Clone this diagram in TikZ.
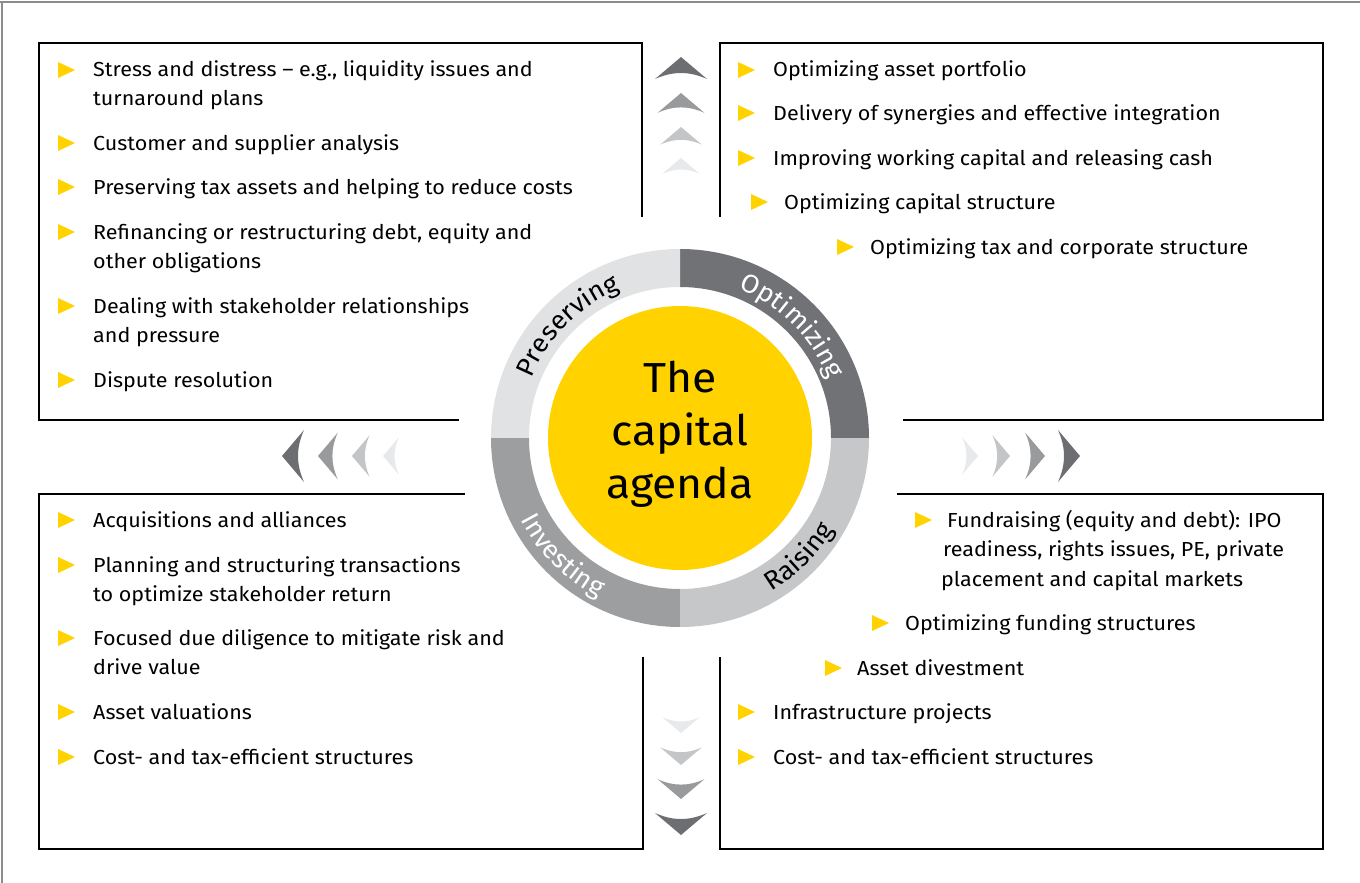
\documentclass[tikz,border=0pt]{standalone}
\usepackage{fontspec}
\setmainfont[FakeStretch=1.06]{Fira Sans}
\newfontfamily\ringfam[FakeStretch=1.04]{Fira Sans}
\usetikzlibrary{decorations.text,calc}
\definecolor{yel}{HTML}{FFD200}
\definecolor{bulc}{HTML}{FFD200}
\definecolor{pres}{HTML}{E1E2E3}
\definecolor{opt}{HTML}{717275}
\definecolor{rai}{HTML}{C6C7C8}
\definecolor{inv}{HTML}{9D9EA0}
\definecolor{chA}{HTML}{6D6E71}
\definecolor{chB}{HTML}{999A9C}
\definecolor{chC}{HTML}{C4C5C7}
\definecolor{chD}{HTML}{E8E9EA}
\definecolor{framec}{HTML}{8C8C8C}
\newcommand\bodyfont{\fontsize{20.3}{24}\selectfont}
\newcommand\ringfont{\ringfam\fontsize{26}{30}\selectfont}
\newcommand\corefont{\fontsize{42}{53}\selectfont}
\newcommand\bul[2]{\fill[bulc] ({#1-35},{8-#2}) -- ({#1-18},{-#2}) -- ({#1-35},{-8-#2}) -- cycle;}
\newcommand\itm[4]{\node[item] (#1) at (#2,{-#3-7}) {#4};}
\tikzset{
  item/.style={anchor=base west, inner sep=0pt, font=\bodyfont, text=black},
  boxline/.style={draw=black, line width=1.3pt},
  chev/.pic={\fill (0,0) -- (26,-22) .. controls (8,-14) and (-8,-14) .. (-26,-22) -- cycle;},
  ringtext/.style={decorate, decoration={text along path, text align=center, text={#1}}}
}
\begin{document}
\begin{tikzpicture}[x=1pt,y=1pt]
\useasboundingbox (0,0) rectangle (1360,-883);
% outer frame
\draw[framec, line width=1.3pt] (0,-2) -- (1360,-2);
\draw[framec, line width=1.3pt] (2,-2) -- (2,-883);
% boxes
\draw[boxline] (642,-217) -- (642,-43) -- (39,-43) -- (39,-420) -- (459,-420);
\draw[boxline] (720,-217) -- (720,-43) -- (1323,-43) -- (1323,-420) -- (903,-420);
\draw[boxline] (465,-494) -- (39,-494) -- (39,-849) -- (643,-849) -- (643,-657);
\draw[boxline] (897,-494) -- (1323,-494) -- (1323,-849) -- (720,-849) -- (720,-657);
% ring
\coordinate (C) at (680,-438);
\fill[opt] ($(C)+(0:189)$) arc[start angle=0, end angle=90, radius=189] -- ($(C)+(90:151)$) arc[start angle=90, end angle=0, radius=151] -- cycle;
\fill[pres] ($(C)+(90:189)$) arc[start angle=90, end angle=180, radius=189] -- ($(C)+(180:151)$) arc[start angle=180, end angle=90, radius=151] -- cycle;
\fill[inv] ($(C)+(180:189)$) arc[start angle=180, end angle=270, radius=189] -- ($(C)+(270:151)$) arc[start angle=270, end angle=180, radius=151] -- cycle;
\fill[rai] ($(C)+(270:189)$) arc[start angle=270, end angle=360, radius=189] -- ($(C)+(0:151)$) arc[start angle=360, end angle=270, radius=151] -- cycle;
\node[circle, fill=yel, minimum size=264pt, inner sep=0pt] (core) at (C) {};
\node[align=center, font=\corefont, inner sep=0pt] (title) at (680,-434) {The\\capital\\agenda};
\path[ringtext={|\ringfont\color{black}|Preserving}] ($(C)+(180:160)$) arc[start angle=180, end angle=90, radius=160];
\path[ringtext={|\ringfont\color{white}|Optimizing}] ($(C)+(90:160)$) arc[start angle=90, end angle=0, radius=160];
\path[ringtext={|\ringfont\color{white}|Investing}] ($(C)+(180:179)$) arc[start angle=180, end angle=270, radius=179];
\path[ringtext={|\ringfont\color{black}|Raising}] ($(C)+(270:179)$) arc[start angle=270, end angle=360, radius=179];
% chevrons up
\pic[fill=chA] at (681,-57) {chev};
\pic[fill=chB, scale=0.9] at (681,-93) {chev};
\pic[fill=chC, scale=0.8] at (681,-127) {chev};
\pic[fill=chD, scale=0.72] at (681,-158) {chev};
% chevrons down
\pic[fill=chA, rotate=180] at (681,-835) {chev};
\pic[fill=chB, scale=0.9, rotate=180] at (681,-799) {chev};
\pic[fill=chC, scale=0.8, rotate=180] at (681,-765) {chev};
\pic[fill=chD, scale=0.72, rotate=180] at (681,-733) {chev};
% chevrons left
\pic[fill=chA, rotate=90] at (282,-456) {chev};
\pic[fill=chB, scale=0.9, rotate=90] at (318,-456) {chev};
\pic[fill=chC, scale=0.8, rotate=90] at (352,-456) {chev};
\pic[fill=chD, scale=0.72, rotate=90] at (383,-456) {chev};
% chevrons right
\pic[fill=chA, rotate=-90] at (1080,-456) {chev};
\pic[fill=chB, scale=0.9, rotate=-90] at (1045,-456) {chev};
\pic[fill=chC, scale=0.8, rotate=-90] at (1010,-456) {chev};
\pic[fill=chD, scale=0.72, rotate=-90] at (978,-456) {chev};
% top-left box
\bul{93}{70}\itm{tla}{93}{70}{Stress and distress – e.g., liquidity issues and}
\itm{tlb}{93}{98}{turnaround plans}
\bul{93}{143}\itm{tlc}{93}{143}{Customer and supplier analysis}
\bul{93}{187}\itm{tld}{93}{187}{Preserving tax assets and helping to reduce costs}
\bul{93}{232}\itm{tle}{93}{232}{Refinancing or restructuring debt, equity and}
\itm{tlf}{93}{261}{other obligations}
\bul{93}{306}\itm{tlg}{93}{306}{Dealing with stakeholder relationships}
\itm{tlh}{93}{335}{and pressure}
\bul{93}{380}\itm{tli}{93}{380}{Dispute resolution}
% top-right box
\bul{773}{70}\itm{tra}{773}{70}{Optimizing asset portfolio}
\bul{773}{113}\itm{trb}{773}{113}{Delivery of synergies and effective integration}
\bul{773}{158}\itm{trc}{773}{158}{Improving working capital and releasing cash}
\bul{786}{202}\itm{trd}{784}{202}{Optimizing capital structure}
\bul{872}{247}\itm{tre}{870}{247}{Optimizing tax and corporate structure}
% bottom-left box
\bul{93}{520}\itm{bla}{93}{520}{Acquisitions and alliances}
\bul{93}{565}\itm{blb}{93}{565}{Planning and structuring transactions}
\itm{blc}{93}{594}{to optimize stakeholder return}
\bul{93}{638}\itm{bld}{93}{638}{Focused due diligence to mitigate risk and}
\itm{ble}{93}{667}{drive value}
\bul{93}{712}\itm{blf}{93}{712}{Asset valuations}
\bul{93}{757}\itm{blg}{93}{757}{Cost- and tax-efficient structures}
% bottom-right box
\bul{950}{520}\itm{bra}{947}{520}{Fundraising (equity and debt): IPO}
\itm{brb}{943}{549}{readiness, rights issues, PE, private}
\itm{brc}{941}{579}{placement and capital markets}
\bul{907}{623}\itm{brd}{905}{623}{Optimizing funding structures}
\bul{860}{668}\itm{bre}{857}{668}{Asset divestment}
\bul{773}{712}\itm{brf}{773}{712}{Infrastructure projects}
\bul{773}{757}\itm{brg}{773}{757}{Cost- and tax-efficient structures}
\end{tikzpicture}
\end{document}
